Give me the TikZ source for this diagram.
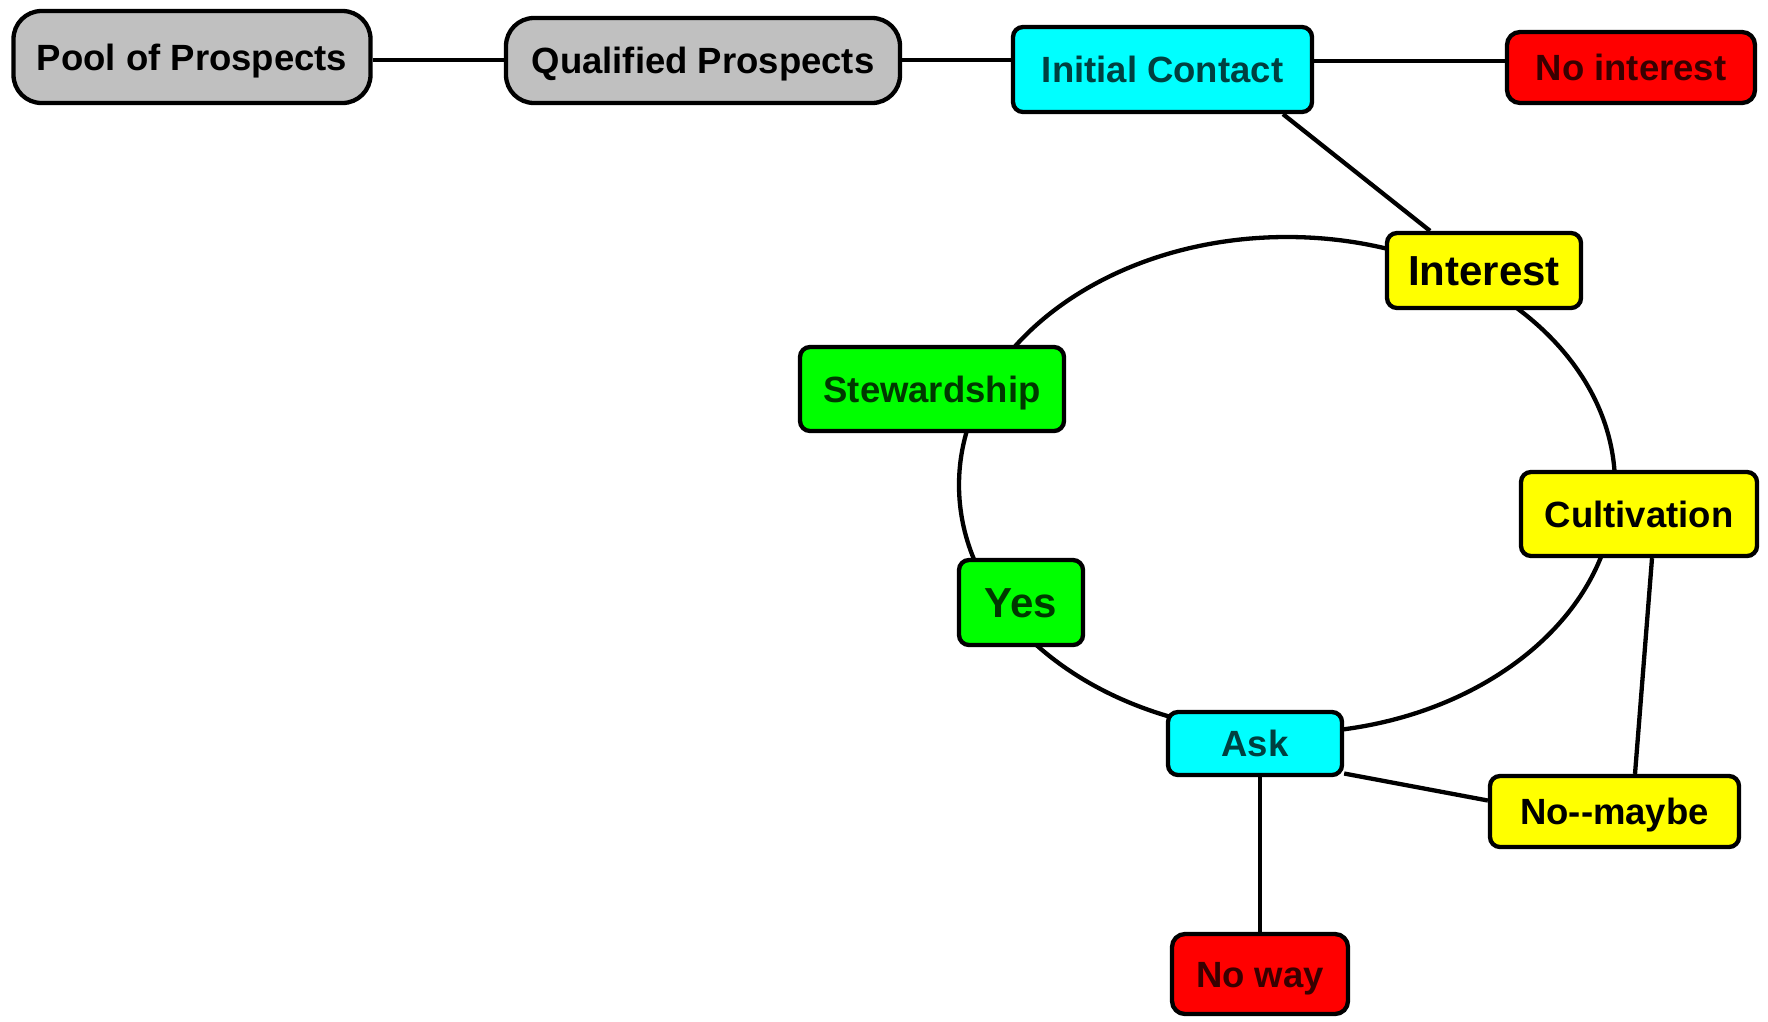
\documentclass[tikz,border=0pt]{standalone}
\usepackage{fontspec}
\setmainfont{Liberation Sans}
\definecolor{boxgray}{HTML}{C0C0C0}
\definecolor{boxcyan}{HTML}{00FFFF}
\definecolor{boxred}{HTML}{FF0000}
\definecolor{boxyellow}{HTML}{FFFF00}
\definecolor{boxgreen}{HTML}{00FF00}
\begin{document}
\begin{tikzpicture}[x=1pt,y=-1pt,
  box/.style={draw=black, line width=4.3pt, rounded corners=10pt, inner sep=0pt,
    font=\bfseries\fontsize{36.5}{40}\selectfont, align=center,
    text height=26pt, text depth=-4pt},
  bigtext/.style={font=\bfseries\fontsize{42}{46}\selectfont, text height=30pt, text depth=-4pt},
  graybox/.style={box, fill=boxgray, text=black, rounded corners=28pt},
  cyanbox/.style={box, fill=boxcyan, text=boxcyan!25!black},
  redbox/.style={box, fill=boxred, text=boxred!22!black, rounded corners=13pt},
  yellowbox/.style={box, fill=boxyellow, text=black},
  greenbox/.style={box, fill=boxgreen, text=boxgreen!22!black},
  link/.style={draw=black, line width=4.3pt}
]
\useasboundingbox (0,0) rectangle (1768,1021);

% cycle ellipse (drawn first, boxes sit on top)
\coordinate (cyc) at (1287,485);
\draw[link] (cyc) ellipse [x radius=328, y radius=248];

% nodes
\node[graybox, minimum width=357, minimum height=92] (pool) at (192,57) {Pool of Prospects};
\node[graybox, minimum width=394, minimum height=85] (qual) at (703,60.5) {Qualified Prospects};
\node[cyanbox, minimum width=299, minimum height=85] (init) at (1162.5,69.5) {Initial Contact};
\node[redbox, minimum width=248, minimum height=71] (noint) at (1631,67.5) {No interest};
\node[yellowbox, bigtext, minimum width=194, minimum height=75] (interest) at (1484,270.5) {Interest};
\node[greenbox, minimum width=264, minimum height=84] (stew) at (932,389) {Stewardship};
\node[yellowbox, minimum width=236, minimum height=84] (cult) at (1639,514) {Cultivation};
\node[greenbox, bigtext, minimum width=124, minimum height=85] (yes) at (1021,602.5) {Yes};
\node[cyanbox, minimum width=174, minimum height=63] (ask) at (1255,743.5) {Ask};
\node[yellowbox, minimum width=249, minimum height=71] (nomaybe) at (1614.5,811.5) {No-{}-maybe};
\node[redbox, minimum width=176, minimum height=80] (noway) at (1260,974) {No way};

% connectors
\draw[link] (pool.east |- 0,60) -- (qual.west |- 0,60);
\draw[link] (qual.east |- 0,60) -- (init.west |- 0,60);
\draw[link] (init.east |- 0,61) -- (noint.west |- 0,61);
\draw[link] ([xshift=120.5pt]init.south) -- ([xshift=-54pt]interest.north);
\draw[link] ([xshift=13pt]cult.south) -- ([xshift=20.5pt]nomaybe.north);
\draw[link] ([yshift=-30pt]ask.east) -- ([yshift=11pt]nomaybe.west);
\draw[link] (noway.north |- ask.south) -- (noway.north);
\end{tikzpicture}
\end{document}
